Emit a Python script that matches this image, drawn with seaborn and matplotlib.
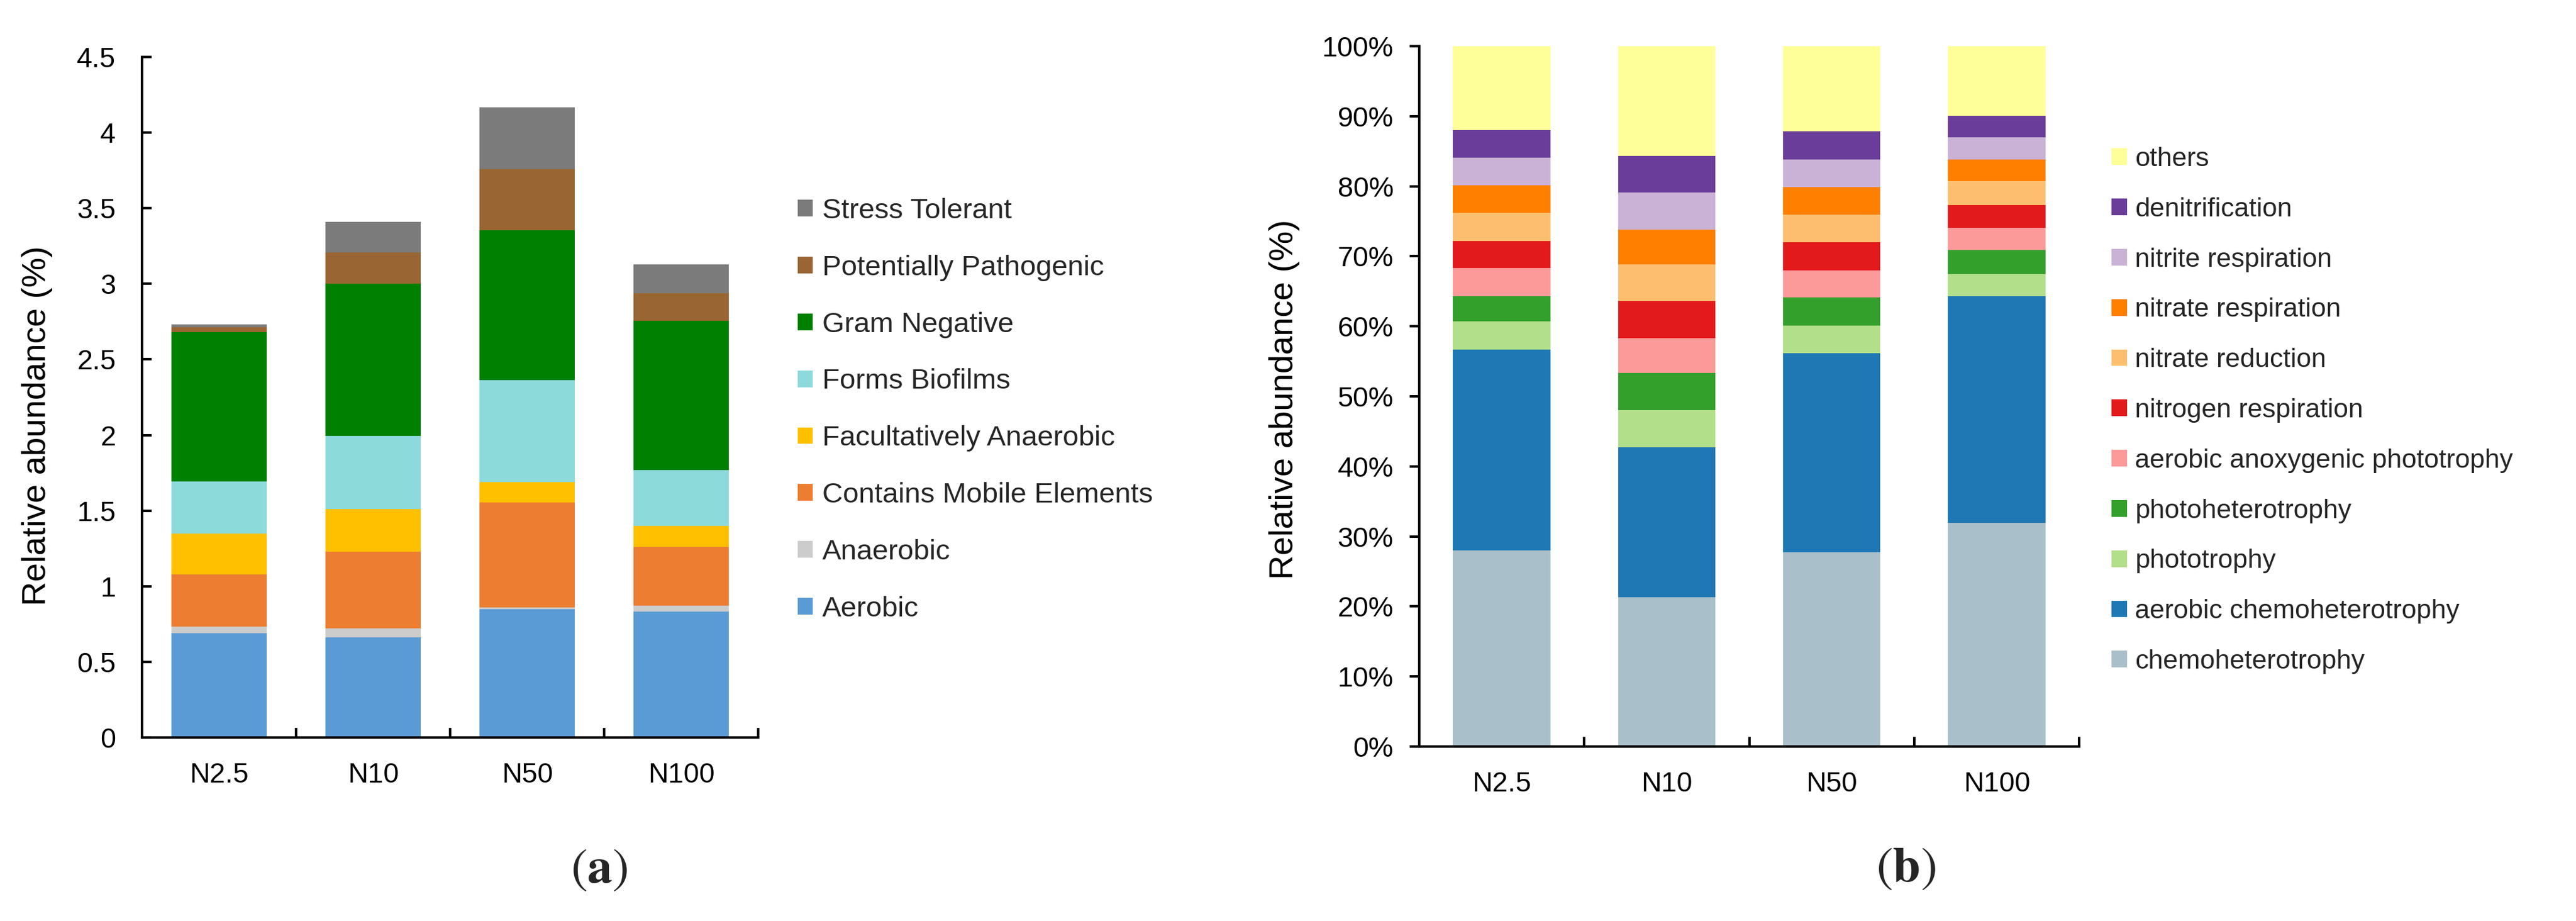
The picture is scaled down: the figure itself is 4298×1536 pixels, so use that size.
import pandas as pd
import matplotlib.pyplot as plt
import seaborn as sns
from matplotlib.patches import Patch
from matplotlib.ticker import FixedLocator, FuncFormatter

# Data
samples = ['N2.5', 'N10', 'N50', 'N100']

# (a) phenotypes, relative abundance (%) per layer, bottom -> top
pheno_names = ['Aerobic', 'Anaerobic', 'Contains Mobile Elements', 'Facultatively Anaerobic',
               'Forms Biofilms', 'Gram Negative', 'Potentially Pathogenic', 'Stress Tolerant']
aerobic = [0.690, 0.664, 0.848, 0.834]
anaerobic = [0.043, 0.059, 0.013, 0.037]
mobile = [0.345, 0.506, 0.693, 0.391]
facultative = [0.269, 0.282, 0.135, 0.137]
biofilms = [0.345, 0.483, 0.673, 0.368]
gram_negative = [0.989, 1.009, 0.992, 0.989]
pathogenic = [0.029, 0.203, 0.404, 0.181]
stress = [0.023, 0.204, 0.408, 0.190]
pheno_colors = ['#5B9BD5', '#CCCCCC', '#ED7D31', '#FFC000',
                '#8DDADB', '#008000', '#996633', '#7B7B7B']

# (b) FAPROTAX functions, % per layer, bottom -> top
func_names = ['chemoheterotrophy', 'aerobic chemoheterotrophy', 'phototrophy', 'photoheterotrophy',
              'aerobic anoxygenic phototrophy', 'nitrogen respiration', 'nitrate reduction',
              'nitrate respiration', 'nitrite respiration', 'denitrification', 'others']
chemohet = [28.0, 21.3, 27.7, 31.9]
aerobic_chemohet = [28.7, 21.4, 28.5, 32.4]
phototrophy = [4.0, 5.3, 3.9, 3.2]
photohet = [3.6, 5.3, 4.0, 3.4]
aerobic_anoxy = [4.0, 5.0, 3.9, 3.2]
nitrogen_resp = [3.9, 5.3, 4.0, 3.2]
nitrate_red = [4.0, 5.2, 3.9, 3.4]
nitrate_resp = [3.9, 5.0, 4.0, 3.1]
nitrite_resp = [4.0, 5.3, 3.9, 3.2]
denitrification = [3.9, 5.2, 4.0, 3.1]
others = [12.0, 15.7, 12.2, 9.9]
func_colors = ['#A9C0CB', '#1F78B4', '#B2DF8A', '#33A02C', '#FB9A99', '#E31A1C',
               '#FDBF6F', '#FF7F00', '#CAB2D6', '#6A3D9A', '#FFFF99']

df_a = pd.DataFrame(dict(zip(pheno_names, [aerobic, anaerobic, mobile, facultative, biofilms,
                                           gram_negative, pathogenic, stress])), index=samples)
df_b = pd.DataFrame(dict(zip(func_names, [chemohet, aerobic_chemohet, phototrophy, photohet,
                                          aerobic_anoxy, nitrogen_resp, nitrate_red, nitrate_resp,
                                          nitrite_resp, denitrification, others])), index=samples)

sns.set_theme(style="ticks")
plt.rcParams['font.family'] = ['Liberation Sans', 'DejaVu Sans']
plt.rcParams['mathtext.fontset'] = 'stix'
plt.rcParams['axes.linewidth'] = 1.0

DPI = 300
fig = plt.figure(figsize=(4298 / DPI, 1536 / DPI), dpi=DPI)
ax_a = fig.add_axes([237 / 4298, 1 - 1230 / 1536, 1028 / 4298, 1135 / 1536])
ax_b = fig.add_axes([2368 / 4298, 1 - 1245 / 1536, 1101 / 4298, 1168 / 1536])


def stacked(ax, df, colors, width):
    cum = df.cumsum(axis=1)
    # draw tallest layer first so lower layers sit on top of it
    for name, color in reversed(list(zip(df.columns, colors))):
        sns.barplot(x=samples, y=cum[name].values, color=color, saturation=1,
                    width=width, errorbar=None, linewidth=0, ax=ax)
    ax.set_xlim(-0.5, 3.5)
    ax.set_xticks([0.5, 1.5, 2.5, 3.5], minor=True)
    ax.tick_params(axis='x', which='major', length=0, pad=9.8, labelsize=11.2, colors='black')
    ax.tick_params(axis='x', which='minor', direction='in', length=3.84, width=1.0, color='black')
    sns.despine(ax=ax)
    for s in ['left', 'bottom']:
        ax.spines[s].set_color('black')


stacked(ax_a, df_a, pheno_colors, 0.62)
stacked(ax_b, df_b, func_colors, 0.59)

# (a) axis
ax_a.set_ylim(0, 4.5)
ax_a.yaxis.set_major_locator(FixedLocator([0, 0.5, 1, 1.5, 2, 2.5, 3, 3.5, 4, 4.5]))
ax_a.yaxis.set_major_formatter(FuncFormatter(lambda v, p: f'{v:g}'))
ax_a.tick_params(axis='y', direction='in', length=3.84, width=1.0, pad=10.5,
                 labelsize=11.2, colors='black')
ax_a.set_ylabel('Relative abundance (%)', fontsize=13.5, color='black')
ax_a.yaxis.label.set_va('center')
ax_a.yaxis.set_label_coords(-0.170, 0.458)

# (b) axis
ax_b.set_ylim(0, 100)
ax_b.yaxis.set_major_locator(FixedLocator(list(range(0, 101, 10))))
ax_b.yaxis.set_major_formatter(FuncFormatter(lambda v, p: f'{v:.0f}%'))
ax_b.tick_params(axis='y', direction='out', length=3.84, width=1.0, pad=6.5,
                 labelsize=11.2, colors='black')
ax_b.set_ylabel('Relative abundance (%)', fontsize=13.5, color='black')
ax_b.yaxis.label.set_va('center')
ax_b.yaxis.set_label_coords(-0.204, 0.496)

# legends, top layer first
handles_a = [Patch(facecolor=c, edgecolor='none', label=n)
             for n, c in reversed(list(zip(pheno_names, pheno_colors)))]
fig.legend(handles=handles_a, loc='upper left', bbox_to_anchor=(1331 / 4298, 1 - 330 / 1536),
           frameon=False, fontsize=11.4, borderpad=0, borderaxespad=0,
           handlelength=0.526, handleheight=0.526, handletextpad=0.34, labelspacing=1.07)

handles_b = [Patch(facecolor=c, edgecolor='none', label=n)
             for n, c in reversed(list(zip(func_names, func_colors)))]
fig.legend(handles=handles_b, loc='upper left', bbox_to_anchor=(3523 / 4298, 1 - 245 / 1536),
           frameon=False, fontsize=10.7, borderpad=0, borderaxespad=0,
           handlelength=0.58, handleheight=0.58, handletextpad=0.29, labelspacing=0.96)

# panel labels
fig.text(1000 / 4298, 1 - 1450 / 1536, r'$(\mathbf{a})$', fontsize=20, ha='center', va='center')
fig.text(3180 / 4298, 1 - 1448 / 1536, r'$(\mathbf{b})$', fontsize=20, ha='center', va='center')

fig.savefig('out.png', dpi=DPI, facecolor='white')
plt.close(fig)
